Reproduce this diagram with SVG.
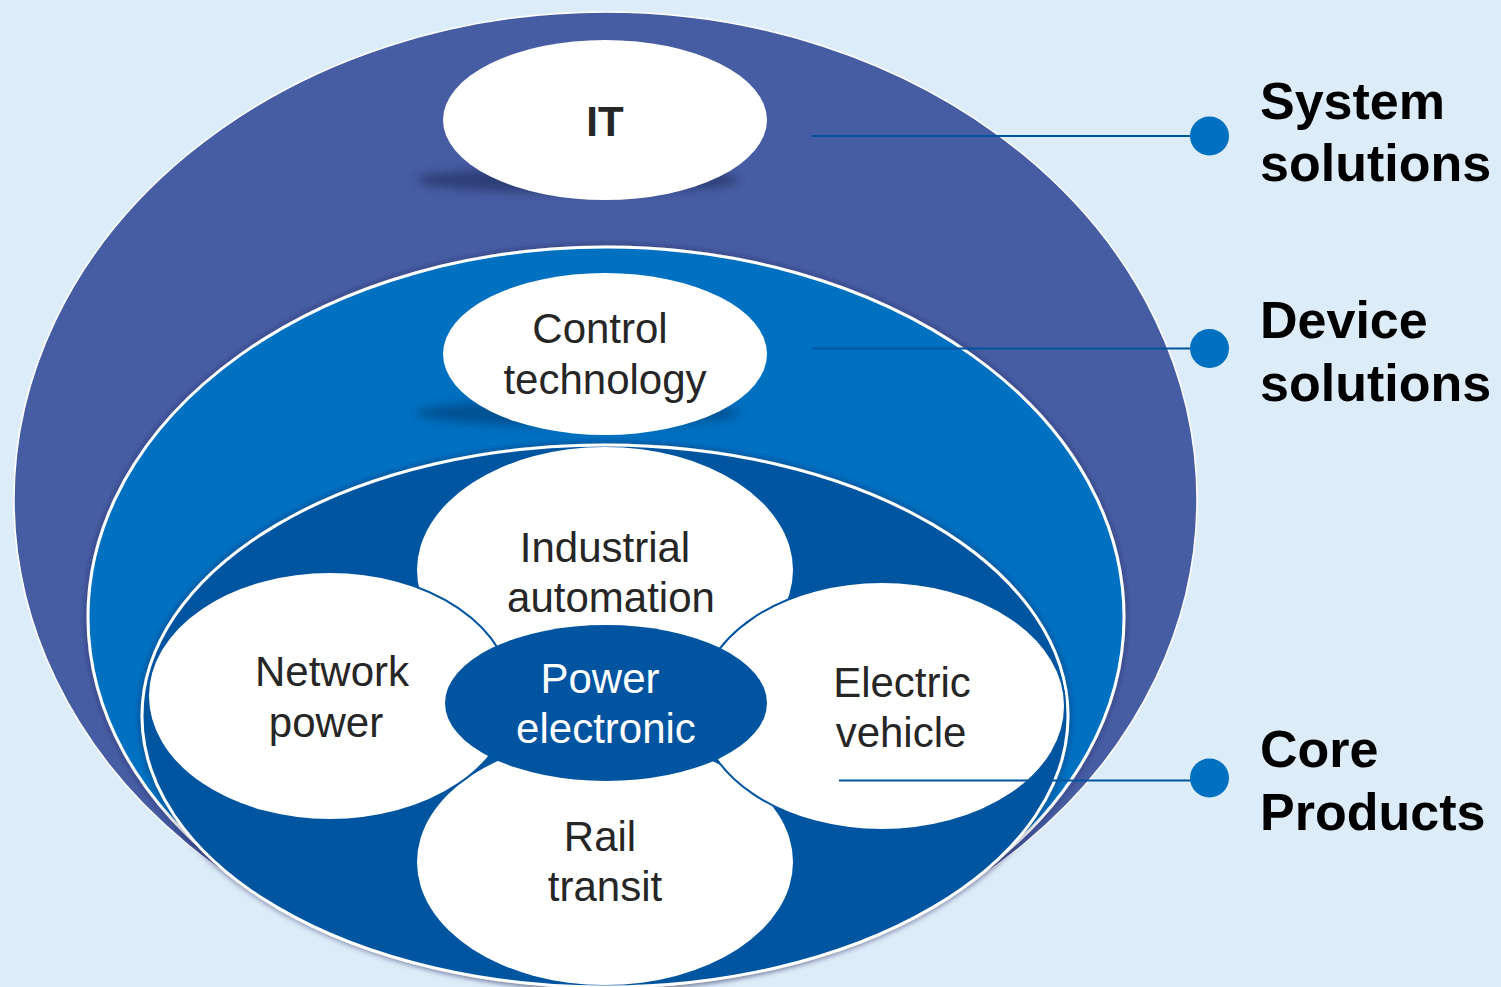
<svg xmlns="http://www.w3.org/2000/svg" width="1501" height="987" viewBox="0 0 1501 987">
<defs>
<filter id="blur" x="-20%" y="-100%" width="140%" height="300%"><feGaussianBlur stdDeviation="5"/></filter>
<filter id="ring" x="-5%" y="-5%" width="110%" height="110%"><feDropShadow dx="0" dy="0" stdDeviation="3" flood-color="#1a2050" flood-opacity="0.6"/></filter>
</defs>
<style>
.t{font-family:"Liberation Sans",Arial,sans-serif;font-size:42px;fill:#262626;text-anchor:middle}
.w{fill:#ffffff}
.b{font-weight:bold}
.lab{font-family:"Liberation Sans",Arial,sans-serif;font-size:52px;font-weight:bold;fill:#000000}
.conn{stroke:#0054a0;stroke-width:2;fill:none}
.dot{fill:#0070c0}
.pet{fill:#ffffff;stroke:#0054a0;stroke-width:2}
</style>
<rect width="1501" height="987" fill="#ddecf9"/>
<g id="system-layer">
<ellipse cx="605.5" cy="499.5" rx="591.5" ry="487.5" fill="#475da3" stroke="#ffffff" stroke-width="1.5"/>
</g>
<g id="it">
<ellipse cx="578" cy="180" rx="162" ry="13" fill="#1e2c5c" opacity="0.6" filter="url(#blur)"/>
<ellipse cx="605" cy="120" rx="162" ry="80" fill="#ffffff"/>
<text class="t b" x="605" y="136">IT</text>
</g>
<g id="device-layer">
<ellipse cx="606" cy="617" rx="518" ry="370" fill="#0070c0" stroke="#ffffff" stroke-width="3" filter="url(#ring)"/>
</g>
<g id="control">
<ellipse cx="578" cy="413" rx="162" ry="13" fill="#063d74" opacity="0.6" filter="url(#blur)"/>
<ellipse cx="605" cy="354" rx="162" ry="81" fill="#ffffff"/>
<text class="t" x="600" y="343">Control</text>
<text class="t" x="605" y="394">technology</text>
</g>
<g id="core-layer">
<ellipse cx="605" cy="716" rx="463" ry="271" fill="#0054a0" stroke="#ffffff" stroke-width="3" filter="url(#ring)"/>
</g>
<g id="industrial">
<ellipse cx="605" cy="570" rx="188" ry="123" fill="#ffffff"/>
<text class="t" x="605" y="562">Industrial</text>
<text class="t" x="611" y="612">automation</text>
</g>
<g id="rail">
<ellipse cx="605" cy="862" rx="188" ry="123" fill="#ffffff"/>
<text class="t" x="600" y="851">Rail</text>
<text class="t" x="605" y="901">transit</text>
</g>
<g id="network">
<ellipse class="pet" cx="330" cy="696" rx="182" ry="124"/>
<text class="t" x="332" y="686">Network</text>
<text class="t" x="326" y="737">power</text>
</g>
<g id="electric">
<ellipse class="pet" cx="882" cy="706" rx="183" ry="124"/>
<text class="t" x="902" y="697">Electric</text>
<text class="t" x="901" y="747">vehicle</text>
</g>
<g id="power">
<ellipse cx="606" cy="703" rx="161" ry="78" fill="#0054a0"/>
<text class="t w" x="600" y="693">Power</text>
<text class="t w" x="606" y="743">electronic</text>
</g>
<g id="connectors">
<line class="conn" x1="812" y1="136" x2="1192" y2="136"/>
<line class="conn" x1="812" y1="348.5" x2="1192" y2="348.5"/>
<line class="conn" x1="839" y1="780.5" x2="1192" y2="780.5"/>
</g>
<g id="label-system">
<circle class="dot" cx="1209.5" cy="136" r="19.5"/>
<text class="lab" x="1260" y="119">System</text>
<text class="lab" x="1260" y="181">solutions</text>
</g>
<g id="label-device">
<circle class="dot" cx="1209.5" cy="348.5" r="19.5"/>
<text class="lab" x="1260" y="338">Device</text>
<text class="lab" x="1260" y="401">solutions</text>
</g>
<g id="label-core">
<circle class="dot" cx="1209.5" cy="778" r="19.5"/>
<text class="lab" x="1260" y="767">Core</text>
<text class="lab" x="1260" y="830">Products</text>
</g>
</svg>
